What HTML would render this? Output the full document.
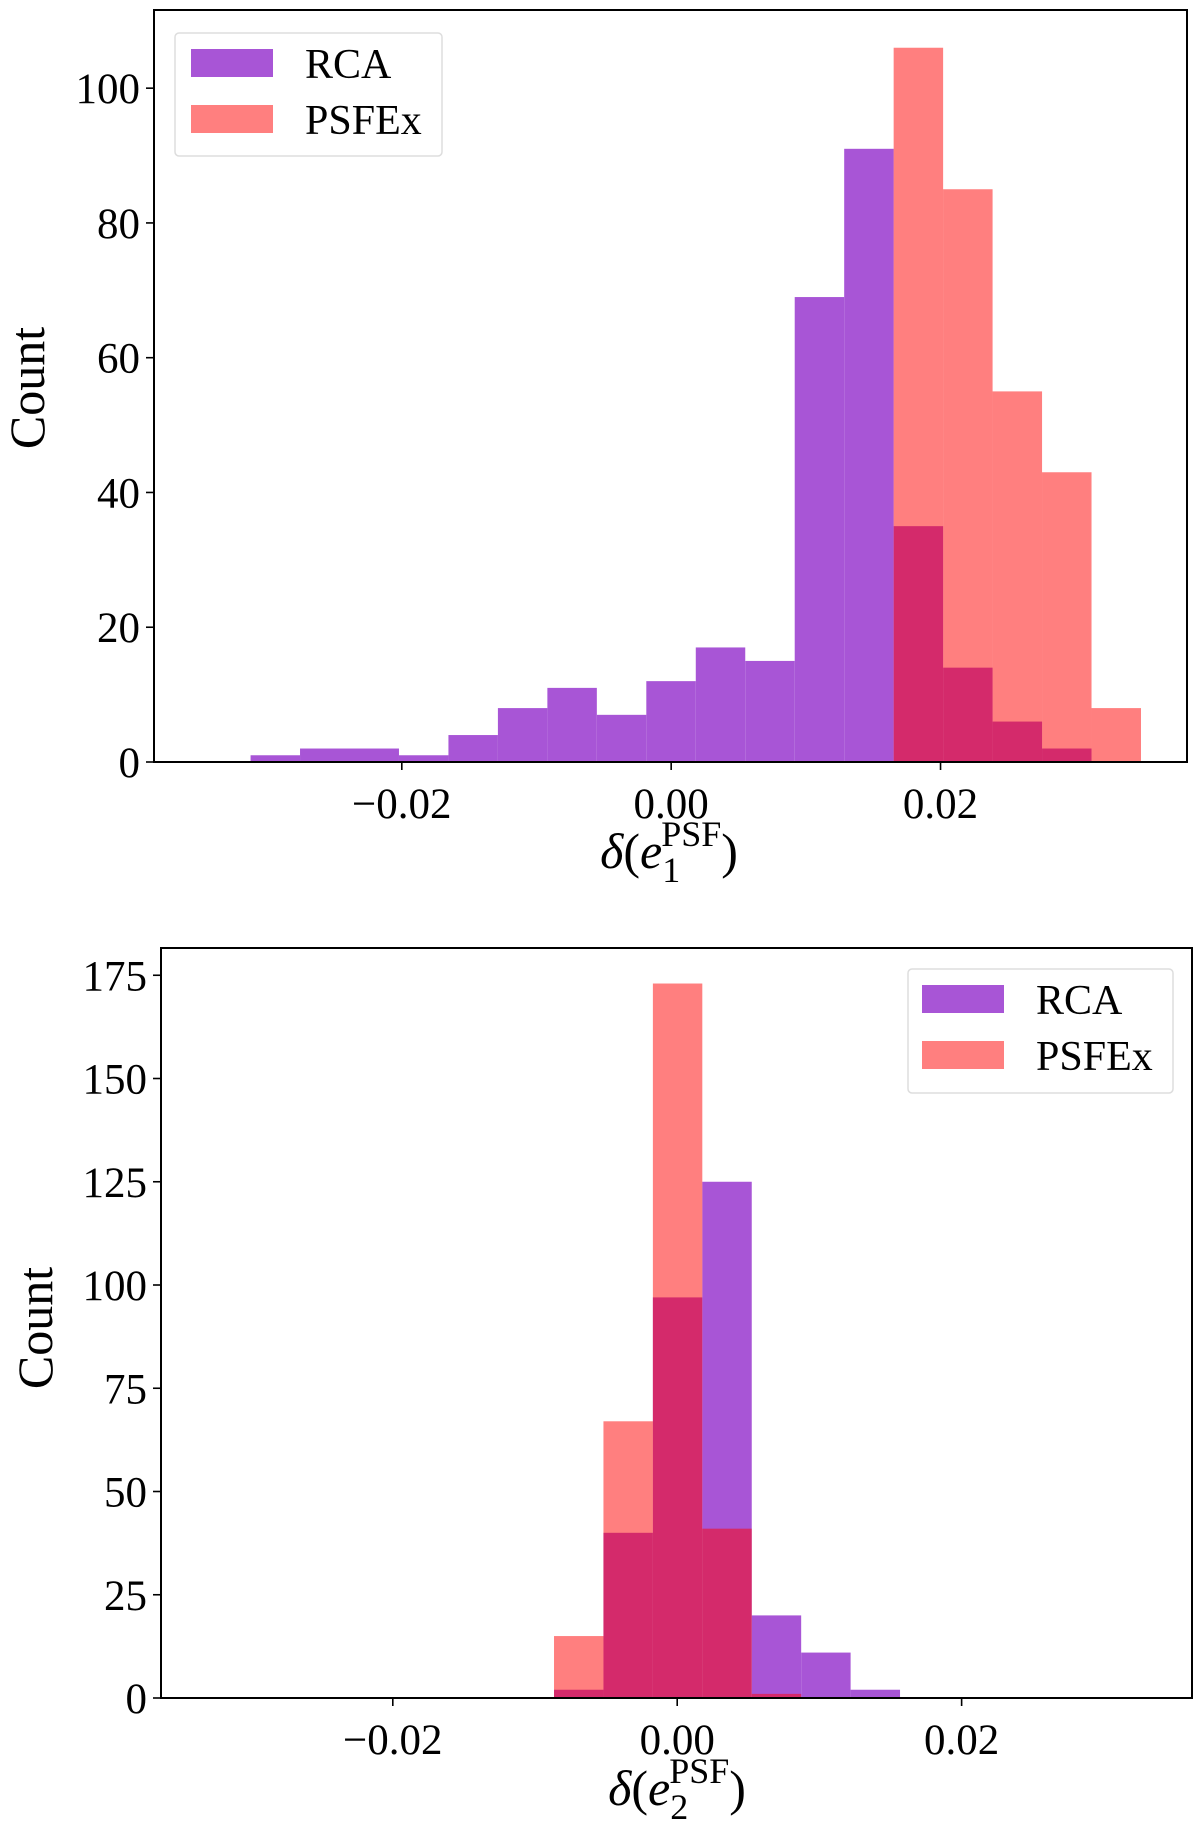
<!DOCTYPE html>
<html><head><meta charset="utf-8"><style>
html,body{margin:0;padding:0;background:#fff;}
svg{display:block;font-family:"Liberation Serif",serif;}
</style></head><body>
<svg id="fig" width="1200" height="1833" viewBox="0 0 1200 1833"></svg>
<script>
// Top panel data
const topBinStart = -0.03123;
const topBinWidth = 0.003673;
const topRCA = [1,2,2,1,4,8,11,7,12,17,15,69,91,35,14,6,2,0];
const topPSFEx = [0,0,0,0,0,0,0,0,0,0,0,0,0,106,85,55,43,8];
const topYTicks = [0,20,40,60,80,100];
const topXTicks = [-0.02,0.00,0.02];
const topXTickLabels = ["\u22120.02","0.00","0.02"];
// Bottom panel data
const botBinStart = -0.008663;
const botBinWidth = 0.003476;
const botRCA = [2,40,97,125,20,11,2];
const botPSFEx = [15,67,173,41,1,0,0];
const botYTicks = [0,25,50,75,100,125,150,175];
const botXTicks = [-0.02,0.00,0.02];
const botXTickLabels = ["\u22120.02","0.00","0.02"];

const NS="http://www.w3.org/2000/svg";
const svg=document.getElementById('fig');
function mk(tag,attrs,parent,text){const e=document.createElementNS(NS,tag);for(const k in attrs)e.setAttribute(k,attrs[k]);if(text!==undefined)e.textContent=text;(parent||svg).appendChild(e);return e;}

function panel(o){
  const g=mk('g',{});
  
  
  const sx=v=>o.left+(v-o.xmin)/(o.xmax-o.xmin)*(o.right-o.left);
  const sy=v=>o.bottom-(v-0)/(o.ymax)*(o.bottom-o.top);
  o.rca.forEach((v,i)=>{ if(v<=0)return;
    const x0=sx(o.binStart+i*o.binWidth),x1=sx(o.binStart+(i+1)*o.binWidth);
    const r=mk('rect',{x:x0,y:sy(v),width:x1-x0,height:sy(0)-sy(v),fill:'#a855d6'},g);
    
    
  });
  o.psf.forEach((v,i)=>{ if(v<=0)return;
    const x0=sx(o.binStart+i*o.binWidth),x1=sx(o.binStart+(i+1)*o.binWidth);
    const r=mk('rect',{x:x0,y:sy(v),width:x1-x0,height:sy(0)-sy(v),fill:'#ff0000','fill-opacity':0.5},g);
    
    
  });
  const fr=mk('rect',{x:o.left,y:o.top,width:o.right-o.left,height:o.bottom-o.top,fill:'none',stroke:'#000','stroke-width':2},g);
  
  
  o.yticks.forEach(t=>{
    const y=sy(t);
    mk('line',{x1:o.left-8,x2:o.left,y1:y,y2:y,stroke:'#000','stroke-width':1.6},g);
    const tx=mk('text',{x:o.left-14,y:y+15,'font-size':43,'text-anchor':'end'},g,String(t));
    
    
  });
  o.xticks.forEach((t,i)=>{
    const x=sx(t);
    mk('line',{x1:x,x2:x,y1:o.bottom,y2:o.bottom+8,stroke:'#000','stroke-width':1.6},g);
    const tx=mk('text',{x:x,y:o.bottom+56,'font-size':43,'text-anchor':'middle'},g,o.xlabels[i]);
    
    
  });
  const yl=mk('text',{x:0,y:0,'font-size':50,'text-anchor':'middle',transform:`translate(${o.ylabX},${o.ylabY}) rotate(-90)`},g,'Count');
  
  
  const xl=mk('text',{x:o.xlabX,y:o.xlabY,'font-size':50,'text-anchor':'middle'},g);
  
  
  xl.innerHTML=`<tspan font-style="italic">δ</tspan>(<tspan font-style="italic">e</tspan><tspan font-size="36" dy="14">${o.sub}</tspan><tspan font-size="36" dx="-19" dy="-36">PSF</tspan><tspan dy="22">)</tspan>`;
  const L=o.leg;
  const lg=mk('g',{},g);
  
  
  mk('rect',{x:L.x,y:L.y,width:L.w,height:L.h,rx:4,fill:'#fff','fill-opacity':0.8,stroke:'#ddd','stroke-width':1.5},lg);
  const e1=mk('rect',{x:L.px,y:L.r1,width:82,height:28,fill:'#a855d6'},lg);
  
  
  const t1=mk('text',{x:L.tx,y:L.r1+29,'font-size':42},lg,'RCA');
  
  
  const e2=mk('rect',{x:L.px,y:L.r2,width:82,height:28,fill:'#ff7f7f'},lg);
  
  
  const t2=mk('text',{x:L.tx,y:L.r2+29,'font-size':42},lg,'PSFEx');
  
  
}

panel({name:'top-histogram',left:154,right:1187,top:10,bottom:762,xmin:-0.0384,xmax:0.0383,ymax:111.6,
  binStart:topBinStart,binWidth:topBinWidth,rca:topRCA,psf:topPSFEx,yticks:topYTicks,xticks:topXTicks,xlabels:topXTickLabels,
  ylabX:44,ylabY:388,xlabX:669,xlabY:868,sub:'1',
  leg:{x:175,y:33,w:267,h:123,px:191,r1:49,r2:105,tx:305}});
panel({name:'bottom-histogram',left:161,right:1192,top:948,bottom:1698,xmin:-0.0363,xmax:0.0362,ymax:181.6,
  binStart:botBinStart,binWidth:botBinWidth,rca:botRCA,psf:botPSFEx,yticks:botYTicks,xticks:botXTicks,xlabels:botXTickLabels,
  ylabX:52,ylabY:1328,xlabX:677,xlabY:1805,sub:'2',
  leg:{x:908,y:969,w:265,h:124,px:922,r1:985,r2:1041,tx:1036}});
</script>
</body></html>
